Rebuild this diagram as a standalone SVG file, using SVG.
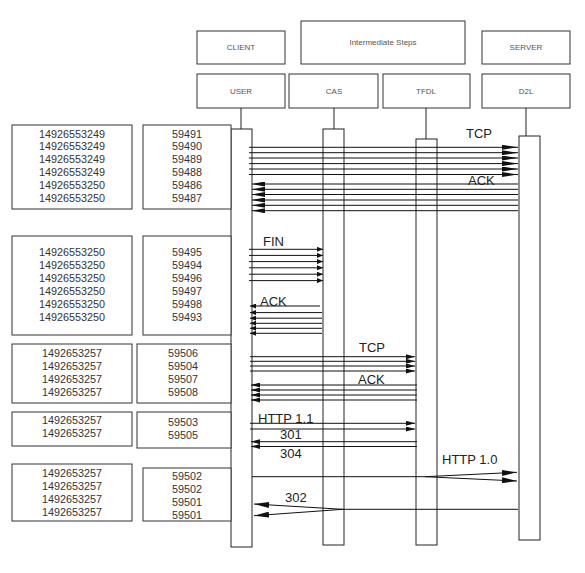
<svg xmlns="http://www.w3.org/2000/svg" width="585" height="573" viewBox="0 0 585 573">
<style>
.box{fill:#fff;stroke:#333;stroke-width:1}
.act{fill:#fff;stroke:#222;stroke-width:1}
.stem{stroke:#222;stroke-width:1}
.hdr{font-family:"Liberation Sans",Arial,sans-serif;font-size:8px;fill:#555;text-anchor:middle}
.num{font-family:"Liberation Sans",Arial,sans-serif;font-size:10.8px;fill:#333;text-anchor:middle}
.lbl{font-family:"Liberation Sans",Arial,sans-serif;font-size:13px;fill:#222}
.msg{stroke:#111;stroke-width:1;fill:none}
</style>
<defs>
<marker id="aBig" markerUnits="userSpaceOnUse" markerWidth="16" markerHeight="5" refX="16" refY="2.5" orient="auto"><path d="M0,0 L16,2.5 L0,5 z" fill="#111"/></marker>
<marker id="aAck" markerUnits="userSpaceOnUse" markerWidth="13" markerHeight="5" refX="13" refY="2.5" orient="auto"><path d="M0,0 L13,2.5 L0,5 z" fill="#111"/></marker>
<marker id="aSm" markerUnits="userSpaceOnUse" markerWidth="6" markerHeight="5" refX="6" refY="2.5" orient="auto"><path d="M0,0 L6,2.5 L0,5 z" fill="#111"/></marker>
<marker id="aMid" markerUnits="userSpaceOnUse" markerWidth="9" markerHeight="5" refX="9" refY="2.5" orient="auto"><path d="M0,0 L9,2.5 L0,5 z" fill="#111"/></marker>
<marker id="aLg" markerUnits="userSpaceOnUse" markerWidth="15" markerHeight="6" refX="15" refY="3" orient="auto"><path d="M0,0 L15,3 L0,6 z" fill="#111"/></marker>
</defs>
<rect width="585" height="573" fill="#fff"/>

<g id="client"><rect class="box" x="197" y="31" width="88" height="33"/><text class="hdr" x="241" y="50">CLIENT</text></g>
<g id="intermediate"><rect class="box" x="301" y="21" width="164" height="43"/><text class="hdr" x="383" y="45">Intermediate Steps</text></g>
<g id="server"><rect class="box" x="482" y="31" width="88" height="33"/><text class="hdr" x="526" y="50">SERVER</text></g>

<g id="user">
<rect class="box" x="197" y="74" width="88" height="34"/><text class="hdr" x="241" y="94">USER</text>
<line class="stem" x1="241" y1="108" x2="241" y2="129"/>
<rect class="act" x="231" y="129" width="21" height="418"/>
</g>
<g id="cas">
<rect class="box" x="289" y="74" width="89" height="34"/><text class="hdr" x="334" y="94">CAS</text>
<line class="stem" x1="334" y1="108" x2="334" y2="129"/>
<rect class="act" x="323" y="129" width="21" height="416"/>
</g>
<g id="tfdl">
<rect class="box" x="383" y="74" width="87" height="34"/><text class="hdr" x="426" y="94">TFDL</text>
<line class="stem" x1="426" y1="108" x2="426" y2="139"/>
<rect class="act" x="416" y="139" width="21" height="406"/>
</g>
<g id="d2l">
<rect class="box" x="482" y="74" width="88" height="34"/><text class="hdr" x="526" y="94">D2L</text>
<line class="stem" x1="526" y1="108" x2="526" y2="136"/>
<rect class="act" x="519" y="136" width="21" height="404"/>
</g>

<g id="ts1"><rect class="box" x="12" y="125" width="120" height="84"/>
<text class="num" x="72" y="137.5">14926553249</text><text class="num" x="72" y="150.4">14926553249</text><text class="num" x="72" y="163.3">14926553249</text><text class="num" x="72" y="176.2">14926553249</text><text class="num" x="72" y="189.1">14926553250</text><text class="num" x="72" y="202">14926553250</text></g>
<g id="port1"><rect class="box" x="143" y="125" width="88" height="84"/>
<text class="num" x="187" y="137.5">59491</text><text class="num" x="187" y="150.4">59490</text><text class="num" x="187" y="163.3">59489</text><text class="num" x="187" y="176.2">59488</text><text class="num" x="187" y="189.1">59486</text><text class="num" x="187" y="202">59487</text></g>

<g id="ts2"><rect class="box" x="12" y="236" width="120" height="99"/>
<text class="num" x="72" y="256">14926553250</text><text class="num" x="72" y="269">14926553250</text><text class="num" x="72" y="282">14926553250</text><text class="num" x="72" y="295">14926553250</text><text class="num" x="72" y="308">14926553250</text><text class="num" x="72" y="321">14926553250</text></g>
<g id="port2"><rect class="box" x="143" y="236" width="88" height="99"/>
<text class="num" x="187" y="256">59495</text><text class="num" x="187" y="269">59494</text><text class="num" x="187" y="282">59496</text><text class="num" x="187" y="295">59497</text><text class="num" x="187" y="308">59498</text><text class="num" x="187" y="321">59493</text></g>

<g id="ts3"><rect class="box" x="12" y="344" width="120" height="59"/>
<text class="num" x="72" y="357">1492653257</text><text class="num" x="72" y="370">1492653257</text><text class="num" x="72" y="383">1492653257</text><text class="num" x="72" y="396">1492653257</text></g>
<g id="port3"><rect class="box" x="137" y="344" width="94" height="59"/>
<text class="num" x="183" y="357">59506</text><text class="num" x="183" y="370">59504</text><text class="num" x="183" y="383">59507</text><text class="num" x="183" y="396">59508</text></g>

<g id="ts4"><rect class="box" x="12" y="412" width="120" height="34"/>
<text class="num" x="72" y="424">1492653257</text><text class="num" x="72" y="437">1492653257</text></g>
<g id="port4"><rect class="box" x="137" y="412" width="94" height="36"/>
<text class="num" x="183" y="426">59503</text><text class="num" x="183" y="439">59505</text></g>

<g id="ts5"><rect class="box" x="12" y="464" width="120" height="57"/>
<text class="num" x="72" y="477">1492653257</text><text class="num" x="72" y="490">1492653257</text><text class="num" x="72" y="503">1492653257</text><text class="num" x="72" y="516">1492653257</text></g>
<g id="port5"><rect class="box" x="143" y="468" width="88" height="53"/>
<text class="num" x="187" y="480">59502</text><text class="num" x="187" y="493">59502</text><text class="num" x="187" y="506">59501</text><text class="num" x="187" y="519">59501</text></g>

<g id="connectors">
<!-- TCP handshake USER -> D2L -->
<line class="msg" x1="249" y1="147.3" x2="518" y2="147.3" marker-end="url(#aBig)"/>
<line class="msg" x1="249" y1="152.7" x2="518" y2="152.7" marker-end="url(#aBig)"/>
<line class="msg" x1="249" y1="158" x2="518" y2="158" marker-end="url(#aBig)"/>
<line class="msg" x1="249" y1="163.6" x2="518" y2="163.6" marker-end="url(#aBig)"/>
<line class="msg" x1="249" y1="169" x2="518" y2="169" marker-end="url(#aBig)"/>
<line class="msg" x1="249" y1="174.5" x2="518" y2="174.5" marker-end="url(#aBig)"/>
<!-- ACK D2L -> USER -->
<line class="msg" x1="518" y1="184" x2="252" y2="184" marker-end="url(#aAck)"/>
<line class="msg" x1="518" y1="189.3" x2="252" y2="189.3" marker-end="url(#aAck)"/>
<line class="msg" x1="518" y1="194.5" x2="252" y2="194.5" marker-end="url(#aAck)"/>
<line class="msg" x1="518" y1="200" x2="252" y2="200" marker-end="url(#aAck)"/>
<line class="msg" x1="518" y1="205.3" x2="252" y2="205.3" marker-end="url(#aAck)"/>
<line class="msg" x1="518" y1="210.7" x2="252" y2="210.7" marker-end="url(#aAck)"/>
<!-- FIN USER -> CAS -->
<line class="msg" x1="249" y1="249.3" x2="323" y2="249.3" marker-end="url(#aSm)"/>
<line class="msg" x1="249" y1="255.4" x2="323" y2="255.4" marker-end="url(#aSm)"/>
<line class="msg" x1="249" y1="261.6" x2="323" y2="261.6" marker-end="url(#aSm)"/>
<line class="msg" x1="249" y1="267.8" x2="323" y2="267.8" marker-end="url(#aSm)"/>
<line class="msg" x1="249" y1="274.2" x2="323" y2="274.2" marker-end="url(#aSm)"/>
<line class="msg" x1="249" y1="280.6" x2="323" y2="280.6" marker-end="url(#aSm)"/>
<!-- ACK CAS -> USER -->
<line class="msg" x1="320" y1="306" x2="250" y2="306" marker-end="url(#aSm)"/>
<line class="msg" x1="322" y1="312.6" x2="250" y2="312.6" marker-end="url(#aSm)"/>
<line class="msg" x1="322" y1="318.2" x2="250" y2="318.2" marker-end="url(#aSm)"/>
<line class="msg" x1="322" y1="323.3" x2="250" y2="323.3" marker-end="url(#aSm)"/>
<line class="msg" x1="322" y1="328.3" x2="250" y2="328.3" marker-end="url(#aSm)"/>
<line class="msg" x1="322" y1="333.3" x2="250" y2="333.3" marker-end="url(#aSm)"/>
<!-- TCP USER -> TFDL -->
<line class="msg" x1="250" y1="356.7" x2="415" y2="356.7" marker-end="url(#aMid)"/>
<line class="msg" x1="250" y1="361.3" x2="415" y2="361.3" marker-end="url(#aMid)"/>
<line class="msg" x1="250" y1="366" x2="415" y2="366" marker-end="url(#aMid)"/>
<line class="msg" x1="250" y1="371" x2="415" y2="371" marker-end="url(#aMid)"/>
<!-- ACK TFDL -> USER -->
<line class="msg" x1="417" y1="385" x2="251" y2="385" marker-end="url(#aMid)"/>
<line class="msg" x1="417" y1="390" x2="251" y2="390" marker-end="url(#aMid)"/>
<line class="msg" x1="417" y1="395" x2="251" y2="395" marker-end="url(#aMid)"/>
<line class="msg" x1="417" y1="400" x2="251" y2="400" marker-end="url(#aMid)"/>
<!-- HTTP 1.1 USER -> TFDL -->
<line class="msg" x1="250" y1="423.3" x2="415" y2="423.3" marker-end="url(#aMid)"/>
<line class="msg" x1="250" y1="429" x2="415" y2="429" marker-end="url(#aMid)"/>
<!-- 301 / 304 TFDL -> USER -->
<line class="msg" x1="417" y1="441.7" x2="251" y2="441.7" marker-end="url(#aMid)"/>
<line class="msg" x1="417" y1="446.5" x2="251" y2="446.5" marker-end="url(#aMid)"/>
<!-- HTTP 1.0 -->
<line class="msg" x1="252" y1="476.7" x2="425" y2="476.7"/>
<line class="msg" x1="425" y1="476.7" x2="517" y2="472.3" marker-end="url(#aLg)"/>
<line class="msg" x1="425" y1="476.7" x2="517" y2="481" marker-end="url(#aLg)"/>
<!-- 302 -->
<line class="msg" x1="518" y1="509.3" x2="343" y2="509.3"/>
<line class="msg" x1="343" y1="509.3" x2="254" y2="504" marker-end="url(#aLg)"/>
<line class="msg" x1="343" y1="509.3" x2="254" y2="515.7" marker-end="url(#aLg)"/>
</g>

<g id="labels">
<text class="lbl" x="466" y="137.5">TCP</text>
<text class="lbl" x="468" y="184.5">ACK</text>
<text class="lbl" x="263" y="245.5">FIN</text>
<text class="lbl" x="260" y="305.5">ACK</text>
<text class="lbl" x="359" y="351.5">TCP</text>
<text class="lbl" x="358" y="383.5">ACK</text>
<text class="lbl" x="258" y="422.5">HTTP 1.1</text>
<text class="lbl" x="280" y="438.5">301</text>
<text class="lbl" x="280" y="458">304</text>
<text class="lbl" x="442" y="463.5">HTTP 1.0</text>
<text class="lbl" x="285" y="501.5">302</text>
</g>
</svg>
